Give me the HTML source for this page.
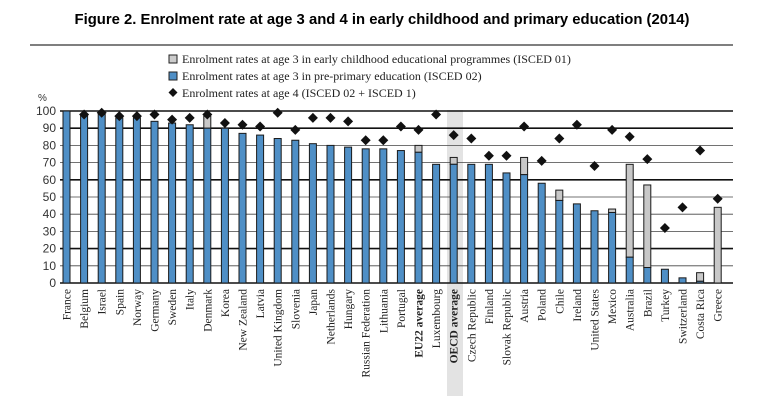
<!DOCTYPE html>
<html><head><meta charset="utf-8"><style>
html,body{margin:0;padding:0;background:#fff;}
svg{display:block;}
</style></head><body>
<svg width="762" height="419" xmlns="http://www.w3.org/2000/svg">
<text x="382" y="24" text-anchor="middle" font-family="Liberation Sans, sans-serif" font-weight="bold" font-size="14.5" textLength="615" lengthAdjust="spacingAndGlyphs">Figure 2. Enrolment rate at age 3 and 4 in early childhood and primary education (2014)</text>
<line x1="30" y1="45" x2="733" y2="45" stroke="#555" stroke-width="1.5"/>
<rect x="447" y="110" width="16" height="286" fill="#e3e3e3"/>
<g font-family="Liberation Serif, serif" font-size="12" fill="#222">
<rect x="169" y="55" width="8" height="8" fill="#ccc" stroke="#222"/>
<text x="182" y="63">Enrolment rates at age 3 in early childhood educational programmes (ISCED 01)</text>
<rect x="169" y="72" width="8" height="8" fill="#4f8fc6" stroke="#222"/>
<text x="182" y="80">Enrolment rates at age 3 in pre-primary education (ISCED 02)</text>
<path d="M173,88 l4.5,4.5 l-4.5,4.5 l-4.5,-4.5z" fill="#111"/>
<text x="182" y="97">Enrolment rates at age 4 (ISCED 02 + ISCED 1)</text>
</g>
<text x="38" y="101" font-family="Liberation Sans, sans-serif" font-size="10" fill="#333">%</text>
<g id="grid"></g>
<g id="bars"></g>
<g id="labels" font-family="Liberation Serif, serif" font-size="11.5" fill="#222"></g>
<script>
const ns="http://www.w3.org/2000/svg";
const y0=283, k=1.72;
const Y=v=>y0-v*k;
const grid=document.getElementById('grid');
for(let v=0;v<=100;v+=10){
 const thick=[100,90,60,20,0].includes(v);
 const l=document.createElementNS(ns,'line');
 l.setAttribute('x1',60);l.setAttribute('x2',733);l.setAttribute('y1',Y(v));l.setAttribute('y2',Y(v));
 l.setAttribute('stroke',thick?'#111':'#444');l.setAttribute('stroke-width',thick?1.6:0.8);
 grid.appendChild(l);
 const t=document.createElementNS(ns,'text');
 t.setAttribute('x',56);t.setAttribute('y',Y(v)+4);t.setAttribute('text-anchor','end');
 t.setAttribute('font-family','Liberation Sans, sans-serif');t.setAttribute('font-size','12');t.setAttribute('fill','#333');
 t.textContent=v;grid.appendChild(t);
}
const d=[
["France",100,0,null],["Belgium",98,0,98],["Israel",98,0,99],["Spain",96,0,97],["Norway",96,0,97],
["Germany",94,0,98],["Sweden",93,0,95],["Italy",92,0,96],["Denmark",90,97,98],["Korea",90,0,93],
["New Zealand",87,0,92],["Latvia",86,0,91],["United Kingdom",84,0,99],["Slovenia",83,0,89],["Japan",81,0,96],
["Netherlands",80,0,96],["Hungary",79,0,94],["Russian Federation",78,0,83],["Lithuania",78,0,83],["Portugal",77,0,91],
["EU22 average",76,80,89],["Luxembourg",69,0,98],["OECD average",69,73,86],["Czech Republic",69,0,84],["Finland",69,0,74],
["Slovak Republic",64,0,74],["Austria",63,73,91],["Poland",58,0,71],["Chile",48,54,84],["Ireland",46,0,92],
["United States",42,0,68],["Mexico",41,43,89],["Australia",15,69,85],["Brazil",9,57,72],["Turkey",8,0,32],
["Switzerland",3,0,44],["Costa Rica",1,6,77],["Greece",0,44,49]];
const bars=document.getElementById('bars'),labs=document.getElementById('labels');
function rect(x,y,w,h,f){const r=document.createElementNS(ns,'rect');r.setAttribute('x',x);r.setAttribute('y',y);r.setAttribute('width',w);r.setAttribute('height',Math.max(h,0));r.setAttribute('fill',f);r.setAttribute('stroke','#1a1a1a');r.setAttribute('stroke-width','1');bars.appendChild(r);}
d.forEach((r,i)=>{
 const cx=66.5+i*17.6;
 if(r[2]>r[1]) rect(cx-3.5,Y(r[2]),7,(r[2]-r[1])*k,'#c8c8c8');
 if(r[1]>0) rect(cx-3.5,Y(r[1]),7,r[1]*k,'#4f8fc6');
 if(r[3]!=null){const p=document.createElementNS(ns,'path');const yy=Y(r[3]);
  p.setAttribute('d',`M${cx},${yy-5} l5,5 l-5,5 l-5,-5z`);p.setAttribute('fill','#111');bars.appendChild(p);}
 const t=document.createElementNS(ns,'text');
 t.setAttribute('transform',`translate(${cx+4},289) rotate(-90)`);t.setAttribute('text-anchor','end');
 if(r[0].includes('average'))t.setAttribute('font-weight','bold');
 t.textContent=r[0];labs.appendChild(t);
});
</script>
</svg>
</body></html>
